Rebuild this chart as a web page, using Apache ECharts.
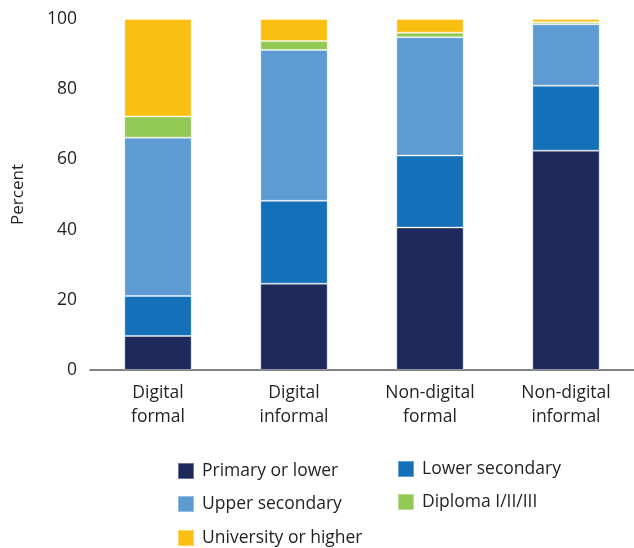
<!DOCTYPE html>
<html>
<head>
<meta charset="utf-8">
<script src="https://cdn.jsdelivr.net/npm/echarts@6/dist/echarts.min.js"></script>
<style>
  html, body { margin: 0; padding: 0; background: #fff; }
  #chart { width: 634px; height: 548px; }
</style>
</head>
<body>
<div id="chart"></div>
<script>
// Learning type categories (x axis)
const categories = ['Digital\nformal', 'Digital\ninformal', 'Non-digital\nformal', 'Non-digital\ninformal'];

// Share of learners by education level, percent
const primaryOrLower   = [9.7, 24.6, 40.6, 62.5];
const lowerSecondary   = [11.4, 23.6, 20.5, 18.5];
const upperSecondary   = [45.1, 43.0, 33.7, 17.5];
const diploma          = [6.0, 2.5, 1.3, 0.6];
const universityHigher = [27.8, 6.3, 3.9, 0.9];

const seriesNames = ['Primary or lower', 'Lower secondary', 'Upper secondary', 'Diploma I/II/III', 'University or higher'];
const seriesData = [primaryOrLower, lowerSecondary, upperSecondary, diploma, universityHigher];
const seriesColors = ['#1f2a5c', '#1470b8', '#5e9bd3', '#92c955', '#fbbf13'];

const yTicks = [0, 20, 40, 60, 80, 100];

const FONT = 'Open Sans';
const TEXT = '#231f20';

// Legend entries laid out in two columns
const legendSlots = [
  { name: 'Primary or lower',     left: 177, top: 462 },
  { name: 'Lower secondary',      left: 397, top: 460 },
  { name: 'Upper secondary',      left: 177, top: 495 },
  { name: 'Diploma I/II/III',     left: 397, top: 493 },
  { name: 'University or higher', left: 177, top: 529 }
];

const chart = echarts.init(document.getElementById('chart'), null, { renderer: 'canvas' });

chart.setOption({
  animation: false,
  textStyle: { fontFamily: FONT },
  grid: { left: 90, top: 19, width: 550, height: 351, containLabel: false },
  legend: legendSlots.map(s => ({
    data: [s.name],
    left: s.left, top: s.top,
    itemWidth: 16, itemHeight: 16, padding: 0,
    icon: 'rect',
    textStyle: { fontFamily: FONT, fontSize: 17.5, color: TEXT, padding: [0, 0, 0, 3] }
  })),
  xAxis: {
    type: 'category',
    data: categories,
    axisLine: { show: true, lineStyle: { color: '#5a5a5a', width: 1.5 } },
    axisTick: { show: false },
    axisLabel: { fontFamily: FONT, fontSize: 17.5, color: TEXT, margin: 11, lineHeight: 24 }
  },
  yAxis: {
    type: 'value',
    min: yTicks[0], max: yTicks[yTicks.length - 1], interval: 20,
    name: 'Percent',
    nameLocation: 'middle',
    nameGap: 63,
    nameRotate: 90,
    nameTextStyle: { fontFamily: FONT, fontSize: 17, color: TEXT },
    axisLine: { show: false },
    axisTick: { show: false },
    splitLine: { show: false },
    axisLabel: { fontFamily: FONT, fontSize: 17.5, color: TEXT, margin: 13 }
  },
  series: seriesNames.map((name, i) => ({
    name,
    type: 'bar',
    stack: 'total',
    barWidth: '49.5%',
    data: seriesData[i],
    itemStyle: { color: seriesColors[i], borderColor: 'rgba(255,255,255,0.35)', borderWidth: 1 }
  }))
});
</script>
</body>
</html>
